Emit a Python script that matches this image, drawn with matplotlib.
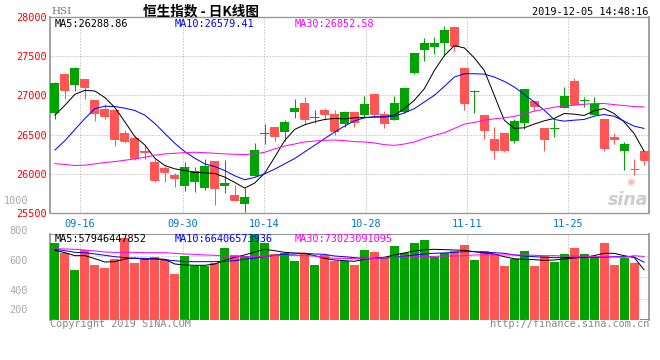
import numpy as np
import matplotlib
matplotlib.use('Agg')
import matplotlib.pyplot as plt

# ---- data (HSI daily, 2019-09-11 .. 2019-12-05) ----
opens = [26777, 27268, 27128, 27204, 26938, 26824, 26811, 26520, 26456, 26287, 26152, 26076, 25979, 25840, 25890,
         25814, 26165, 25840, 25734, 25611, 25975, 26507, 26596, 26537, 26790, 26900, 26706, 26811, 26761, 26638,
         26786, 26752, 27014, 26761, 26684, 26790, 27284, 27576, 27614, 27665, 27876, 27344, 27048, 26748, 26444,
         26520, 26423, 26651, 26925, 26583, 26570, 26841, 27179, 26934, 26752, 26697, 26469, 26296, 26063, 26292]
closes = [27158, 27065, 27344, 27107, 26777, 26735, 26448, 26423, 26207, 26279, 25924, 26025, 25941, 26093, 26038,
          26102, 25814, 25886, 25671, 25709, 26304, 26524, 26486, 26659, 26837, 26697, 26723, 26769, 26549, 26782,
          26659, 26887, 26761, 26651, 26900, 27090, 27538, 27673, 27673, 27838, 27631, 26904, 27056, 26558, 26304,
          26304, 26672, 27077, 26862, 26444, 26579, 26989, 26887, 26942, 26892, 26330, 26444, 26380, 26055, 26178]
highs = [27170, 27280, 27356, 27210, 26945, 26887, 26815, 26558, 26486, 26368, 26186, 26101, 26013, 26152, 26093,
         26186, 26165, 26178, 25861, 25818, 26389, 26634, 26596, 26685, 26951, 26976, 26811, 26841, 26811, 26803,
         26786, 26997, 27014, 26803, 26997, 27090, 27300, 27728, 27741, 27889, 27876, 27344, 27065, 26748, 26592,
         26520, 26697, 27077, 26925, 26583, 26685, 27103, 27217, 26980, 26976, 26697, 26516, 26410, 26186, 26292]
lows = [26693, 26955, 27056, 26955, 26676, 26701, 26359, 26397, 26173, 26194, 25899, 25899, 25827, 25776, 25764,
        25797, 25599, 25755, 25650, 25510, 25966, 26376, 26423, 26423, 26714, 26638, 26642, 26685, 26494, 26592,
        26600, 26727, 26727, 26579, 26684, 26777, 27270, 27437, 27530, 27508, 27563, 26811, 26777, 26444, 26190,
        26279, 26397, 26575, 26803, 26292, 26473, 26841, 26887, 26854, 26752, 26296, 26380, 26051, 25983, 26110]

ma5 = [26748, 26875, 27014, 27065, 27056, 26972, 26845, 26663, 26473, 26368, 26199, 26106, 26063, 26042, 26017,
       26013, 26004, 25958, 25890, 25818, 25882, 26008, 26211, 26423, 26566, 26625, 26663, 26693, 26706, 26701,
       26714, 26718, 26723, 26727, 26748, 26832, 26938, 27086, 27318, 27508, 27635, 27606, 27479, 27318, 27001,
       26684, 26579, 26587, 26634, 26676, 26706, 26769, 26761, 26744, 26803, 26832, 26769, 26663, 26515, 26289]
ma10 = [26304, 26423, 26566, 26706, 26832, 26862, 26858, 26837, 26807, 26748, 26642, 26515, 26389, 26283, 26199,
        26127, 26093, 26042, 25975, 25924, 25954, 26000, 26059, 26127, 26194, 26279, 26363, 26448, 26532, 26608,
        26676, 26714, 26727, 26727, 26735, 26777, 26832, 26917, 27001, 27115, 27234, 27276, 27276, 27272, 27234,
        27179, 27107, 27014, 26917, 26811, 26693, 26672, 26684, 26693, 26735, 26756, 26735, 26672, 26608, 26579]
ma30 = [26131, 26118, 26106, 26110, 26127, 26144, 26156, 26173, 26190, 26211, 26237, 26254, 26262, 26270, 26275,
        26270, 26262, 26254, 26249, 26245, 26254, 26275, 26317, 26355, 26380, 26406, 26418, 26427, 26431, 26423,
        26410, 26406, 26393, 26372, 26363, 26380, 26406, 26452, 26490, 26524, 26579, 26634, 26655, 26684, 26701,
        26714, 26731, 26765, 26799, 26824, 26849, 26866, 26875, 26887, 26896, 26896, 26883, 26870, 26858, 26853]

# turnover, 1e8 HKD
volume = [889, 774, 575, 805, 633, 598, 698, 939, 659, 698, 721, 698, 529, 736, 621,
          621, 659, 828, 748, 736, 985, 889, 759, 774, 682, 767, 633, 748, 682, 682,
          633, 805, 782, 709, 851, 767, 889, 920, 721, 767, 797, 866, 690, 797, 759,
          621, 705, 794, 621, 736, 667, 759, 828, 759, 728, 889, 633, 713, 659, 8]
vma5 = [801, 774, 740, 740, 705, 667, 671, 702, 713, 698, 705, 698, 644, 633, 629,
        629, 644, 686, 721, 748, 782, 813, 797, 778, 771, 767, 740, 709, 690, 682,
        675, 698, 709, 721, 748, 771, 794, 809, 813, 809, 805, 801, 786, 771, 759,
        728, 705, 698, 694, 686, 690, 702, 713, 721, 740, 767, 767, 740, 721, 579]
vma10 = [813, 797, 778, 774, 759, 744, 728, 717, 709, 709, 702, 690, 682, 671, 671,
         671, 671, 675, 682, 698, 713, 728, 744, 755, 759, 767, 759, 755, 736, 728,
         717, 709, 709, 713, 721, 732, 748, 759, 767, 771, 778, 786, 786, 782, 774,
         767, 748, 736, 728, 721, 717, 717, 721, 721, 721, 721, 728, 728, 725, 664]
vma30 = [820, 817, 813, 805, 794, 782, 778, 778, 778, 774, 774, 774, 767, 759, 755,
         748, 744, 736, 732, 728, 728, 732, 740, 744, 744, 740, 736, 721, 709, 709,
         705, 705, 709, 717, 721, 725, 728, 728, 732, 736, 736, 740, 748, 748, 748,
         748, 748, 748, 744, 740, 740, 736, 736, 732, 728, 728, 725, 721, 740, 730]

tick_labels = ['09-16', '09-30', '10-14', '10-28', '11-11', '11-25']
tick_pos = [2.5, 12.8, 20.9, 31.2, 41.3, 51.4]   # where sina puts its date grid

price_ticks = [25500, 26000, 26500, 27000, 27500, 28000]

# ---- style ----
RED = '#ff5555'
GREEN = '#00a400'
GRID = '#aaaaaa'
FRAME = '#999999'
MONO = 'DejaVu Sans Mono'
CJK = ['Noto Sans CJK SC', 'DejaVu Sans']
PX = 0.72  # one pixel in points at dpi 100
W, H = 660, 360


def fx(x):
    return x / W


def fy(y):
    return 1 - y / H


opens, closes, highs, lows = map(np.array, (opens, closes, highs, lows))
x = np.arange(len(closes))
colors = np.where(closes >= opens, GREEN, RED)

fig = plt.figure(figsize=(6.6, 3.6), dpi=100)
ax = fig.add_axes([fx(50), fy(213), (649 - 50) / W, (213 - 17) / H])
axv = fig.add_axes([fx(50), fy(320), (649 - 50) / W, (320 - 234) / H])

# ---- price panel ----
ax.vlines(x, lows, highs, colors=colors, lw=PX, zorder=3)
ax.bar(x, np.abs(closes - opens), bottom=np.minimum(opens, closes), width=0.9,
       color=colors, linewidth=0, zorder=3)
ax.hlines(closes, x - 0.45, x + 0.45, colors=colors, lw=PX, zorder=3)
ax.plot(x, ma5, color='black', lw=PX, zorder=4)
ax.plot(x, ma10, color='#0000ff', lw=PX, zorder=4)
ax.plot(x, ma30, color='#ff00ff', lw=PX, zorder=4)

ax.set_xlim(-0.5, len(x) - 0.5)
ax.set_ylim(25500, 28000)
ax.set_yticks(price_ticks)
ax.set_yticklabels([str(t) for t in price_ticks], color='#ff0000', fontfamily=MONO, fontsize=7.4)
ax.set_xticks(tick_pos)
ax.set_xticklabels(tick_labels, color='#0077cc', fontfamily=MONO, fontsize=7.4)
ax.tick_params(length=0, pad=2.5)
ax.tick_params(axis='x', pad=4)
ax.grid(True, color=GRID, linestyle=(0, (1, 2)), lw=PX)

for s in ['left', 'right']:
    ax.spines[s].set_color(FRAME)
    ax.spines[s].set_linewidth(1.3)
for s in ['top', 'bottom']:
    ax.spines[s].set_color(FRAME)
    ax.spines[s].set_linewidth(1.0)
    ax.spines[s].set_linestyle((0, (1, 1)))

# ---- volume panel ----
axv.bar(x, volume, width=0.9, color=colors, linewidth=0, zorder=3)
axv.plot(x, vma5, color='black', lw=PX, zorder=4)
axv.plot(x, vma10, color='#0000ff', lw=PX, zorder=4)
axv.plot(x, vma30, color='#ff00ff', lw=PX, zorder=4)
axv.set_xlim(-0.5, len(x) - 0.5)
vtop = 989
axv.set_ylim(0, vtop)
axv.set_yticks([vtop / 4, vtop / 2, vtop * 3 / 4])
axv.set_xticks(tick_pos)
axv.tick_params(length=0, labelleft=False, labelbottom=False)
axv.grid(True, color=GRID, linestyle=(0, (1, 2)), lw=PX)
axv.spines['bottom'].set_visible(False)
for s in ['left', 'right']:
    axv.spines[s].set_color(FRAME)
    axv.spines[s].set_linewidth(1.3)
axv.spines['top'].set_color(FRAME)
axv.spines['top'].set_linestyle((0, (1, 1)))

# ---- texts ----
fig.text(fx(51), fy(11), 'HSI', fontfamily='DejaVu Serif', fontsize=7.5, color='#777777', va='center')
fig.text(fx(201), fy(11), '恒生指数 - 日K线图', fontfamily=CJK, fontsize=9.8, fontweight='bold',
         color='black', ha='center', va='center')
fig.text(fx(648), fy(12), '2019-12-05 14:48:16', fontfamily=MONO, fontsize=7.4, color='black',
         ha='right', va='center')

fig.text(fx(55), fy(24), 'MA5:26288.86', fontfamily=MONO, fontsize=7.4, color='black', va='center')
fig.text(fx(175), fy(24), 'MA10:26579.41', fontfamily=MONO, fontsize=7.4, color='#0000ff', va='center')
fig.text(fx(295), fy(24), 'MA30:26852.58', fontfamily=MONO, fontsize=7.4, color='#ff00ff', va='center')

fig.text(fx(55), fy(239), 'MA5:57946447852', fontfamily=MONO, fontsize=7.4, color='black', va='center', zorder=5)
fig.text(fx(175), fy(239), 'MA10:66406573936', fontfamily=MONO, fontsize=7.4, color='#0000ff', va='center', zorder=5)
fig.text(fx(295), fy(239), 'MA30:73023091095', fontfamily=MONO, fontsize=7.4, color='#ff00ff', va='center', zorder=5)

for label, ypix in [('1000', 201), ('800', 231), ('600', 261), ('400', 291), ('200', 310)]:
    fig.text(fx(28), fy(ypix), label, fontfamily=MONO, fontsize=7.4, color='#aaaaaa', ha='right', va='center')

fig.text(fx(50), fy(324), 'Copyright 2019 SINA.COM', fontfamily=MONO, fontsize=7.4, color='#888888', va='center')
fig.text(fx(649), fy(324), 'http://finance.sina.com.cn', fontfamily=MONO, fontsize=7.4, color='#888888',
         ha='right', va='center')

# sina watermark
fig.text(fx(648), fy(200), 'sina', fontfamily='DejaVu Sans', fontsize=12.5, fontweight='bold', style='italic',
         color='#cdcdcd', ha='right', va='center')
fig.text(fx(631), fy(182), '◉', fontfamily='DejaVu Sans', fontsize=7, color='#f4b8b8', ha='center', va='center')

fig.savefig('out.png', dpi=100)
